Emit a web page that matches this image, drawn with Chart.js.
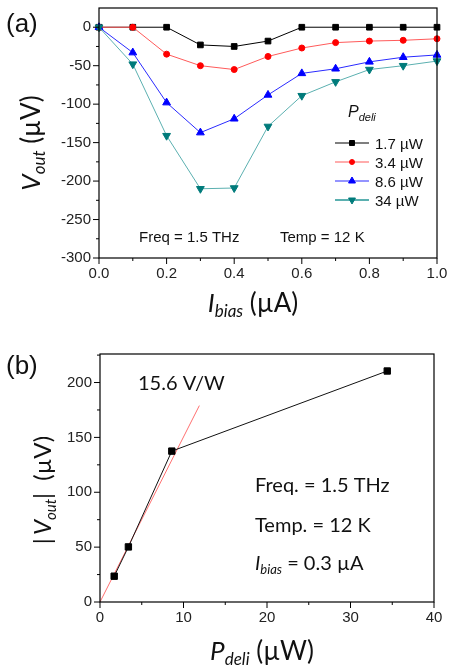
<!DOCTYPE html>
<html>
<head>
<meta charset="utf-8">
<script src="https://cdn.jsdelivr.net/npm/chart.js@4.4.0/dist/chart.umd.min.js"></script>
<style>
  body { margin: 0; background: #fff; }
  canvas { position: absolute; left: 0; }
  #chartA { top: 0; }
  #chartB { top: 330px; }
</style>
</head>
<body>
<canvas id="chartA" width="450" height="330"></canvas>
<canvas id="chartB" width="450" height="336"></canvas>
<script>
// Data, panel (a)
const iBias = [0, 0.1, 0.2, 0.3, 0.4, 0.5, 0.6, 0.7, 0.8, 0.9, 1.0];
const vout17 = [0, 0, 0, -23, -25, -18, 0, 0, 0, 0, 0];
const vout34 = [0, 0, -35, -50, -55, -38, -27, -20, -18, -17, -15];
const vout86 = [0, -33, -98, -137, -119, -88, -60, -54, -45, -39, -36];
const vout340 = [0, -48, -141, -210, -209, -129, -89, -71, -55, -50, -44];
const seriesNames = ['1.7 \u00b5W', '3.4 \u00b5W', '8.6 \u00b5W', '34 \u00b5W'];
const xTicksA = [0, 0.2, 0.4, 0.6, 0.8, 1.0];
const yTicksA = [-300, -250, -200, -150, -100, -50, 0];

// Data, panel (b)
const pDeli = [1.7, 3.4, 8.6, 34.4];
const voutAbs = [23.5, 50.2, 137.5, 210.5];
const fitP = [0, 11.9];
const fitV = [0, 179];
const xTicksB = [0, 10, 20, 30, 40];
const yTicksB = [0, 50, 100, 150, 200];

const tickFont = { family: "'Liberation Sans', Arial, sans-serif", size: 15 };
const tickColor = '#222';
const calibri = "Lato, 'Open Sans', sans-serif";
const arial = "'Liberation Sans', Arial, sans-serif";

const toXY = (xs, ys) => xs.map((x, i) => ({ x: x, y: ys[i] }));

// rich text: parts = [text, font, dy]
function drawRich(ctx, parts, x, y, align, rot) {
  ctx.save();
  ctx.translate(x, y);
  ctx.rotate(rot || 0);
  ctx.fillStyle = '#111';
  ctx.textAlign = 'left';
  ctx.textBaseline = 'alphabetic';
  let total = 0;
  parts.forEach(p => { ctx.font = p[1]; total += ctx.measureText(p[0]).width; });
  let cx = align === 'center' ? -total / 2 : 0;
  parts.forEach(p => {
    ctx.font = p[1];
    ctx.fillText(p[0], cx, p[2] || 0);
    cx += ctx.measureText(p[0]).width;
  });
  ctx.restore();
}

// frame + major/minor tick marks
const axisDecor = {
  id: 'axisDecor',
  afterDraw(chart, args, opts) {
    const { ctx, chartArea: a, scales: { x, y } } = chart;
    ctx.save();
    ctx.strokeStyle = '#000';
    ctx.lineWidth = 1.2;
    ctx.strokeRect(a.left, a.top, a.right - a.left, a.bottom - a.top);
    ctx.lineWidth = 1;
    ctx.beginPath();
    opts.xTicks.forEach((v, i) => {
      const px = x.getPixelForValue(v);
      ctx.moveTo(px, a.bottom); ctx.lineTo(px, a.bottom + 6);
      if (i < opts.xTicks.length - 1) {
        const mx = x.getPixelForValue((v + opts.xTicks[i + 1]) / 2);
        ctx.moveTo(mx, a.bottom); ctx.lineTo(mx, a.bottom + 3);
      }
    });
    opts.yTicks.forEach((v, i) => {
      const py = y.getPixelForValue(v);
      ctx.moveTo(a.left, py); ctx.lineTo(a.left - 6, py);
      const step = opts.yTicks[1] - opts.yTicks[0];
      const m = v + step / 2;
      if (m < y.max) {
        const my = y.getPixelForValue(m);
        ctx.moveTo(a.left, my); ctx.lineTo(a.left - 3, my);
      }
    });
    ctx.stroke();
    ctx.restore();
    if (opts.texts) opts.texts(ctx, chart);
  }
};

function makeSet(label, ys, line, fill, style, radius, rot, order) {
  return {
    label: label,
    data: toXY(iBias, ys),
    borderColor: line,
    borderWidth: 1,
    pointBackgroundColor: fill,
    pointBorderColor: fill,
    pointBorderWidth: 1,
    pointStyle: style,
    pointRadius: radius,
    pointRotation: rot,
    order: order,
    clip: false,
    tension: 0
  };
}

function linearAxis(min, max, ticks, fmt, fit, horizontal) {
  return {
    type: 'linear', min: min, max: max,
    grid: { display: false, drawTicks: false },
    border: { display: false },
    ticks: { font: tickFont, color: tickColor, padding: horizontal ? 7 : 8, callback: fmt },
    afterBuildTicks: s => { s.ticks = ticks.map(v => ({ value: v })); },
    afterFit: s => {
      if (horizontal) s.height = fit; else s.width = fit;
      s.paddingTop = 0; s.paddingBottom = 0; s.paddingLeft = 0; s.paddingRight = 0;
    }
  };
}

// Panel (a)
new Chart(document.getElementById('chartA'), {
  type: 'line',
  data: {
    datasets: [
      makeSet(seriesNames[0], vout17, '#000', '#000', 'rect', 4, 0, 4),
      makeSet(seriesNames[1], vout34, '#ff5a5a', '#ff0000', 'circle', 3, 0, 3),
      makeSet(seriesNames[2], vout86, '#2a2aff', '#0000ff', 'triangle', 4.5, 0, 2),
      makeSet(seriesNames[3], vout340, '#5bb0b0', '#007b7b', 'triangle', 4.5, 180, 1)
    ]
  },
  options: {
    responsive: false,
    animation: false,
    devicePixelRatio: 1,
    layout: { padding: { left: 0, right: 13, top: 8, bottom: 0 } },
    plugins: {
      legend: { display: false },
      tooltip: { enabled: false },
      axisDecor: {
        xTicks: xTicksA, yTicks: yTicksA,
        texts: (ctx, chart) => {
          drawRich(ctx, [['(a)', '26px ' + arial]], 6, 32, 'left');
          drawRich(ctx, [['I', 'italic 26px ' + calibri], ['bias', 'italic 17px ' + calibri, 5], [' (\u00b5A)', '26px ' + calibri]], 253, 312, 'center');
          drawRich(ctx, [['V', 'italic 26px ' + calibri], ['out', 'italic 17px ' + calibri, 5], [' (\u00b5V)', '26px ' + calibri]], 40, 143, 'center', -Math.PI / 2);
          drawRich(ctx, [['Freq = 1.5 THz', '15px ' + arial]], 139, 242, 'left');
          drawRich(ctx, [['Temp = 12 K', '15px ' + arial]], 280, 242, 'left');
          // legend
          drawRich(ctx, [['P', 'italic 16px ' + arial], ['deli', 'italic 11px ' + arial, 4]], 348, 117, 'left');
          chart.data.datasets.forEach((d, i) => {
            const ry = 143 + i * 19;
            ctx.save();
            ctx.strokeStyle = d.borderColor;
            ctx.lineWidth = i === 3 ? 2 : 1.2;
            ctx.beginPath(); ctx.moveTo(335, ry); ctx.lineTo(369, ry); ctx.stroke();
            ctx.fillStyle = d.pointBackgroundColor;
            ctx.strokeStyle = d.pointBorderColor;
            ctx.lineWidth = 1;
            Chart.helpers.drawPoint(ctx, { pointStyle: d.pointStyle, radius: d.pointRadius - 0.5, rotation: d.pointRotation, borderWidth: 1 }, 352, ry);
            ctx.restore();
            drawRich(ctx, [[d.label, '15px ' + arial]], 375, ry + 5.5, 'left');
          });
        }
      }
    },
    scales: {
      x: linearAxis(0, 1, xTicksA, v => v.toFixed(1), 72, true),
      y: linearAxis(-300, 25, yTicksA, v => String(v), 99, false)
    }
  },
  plugins: [axisDecor]
});

// Panel (b)
new Chart(document.getElementById('chartB'), {
  type: 'line',
  data: {
    datasets: [
      {
        label: 'data', data: toXY(pDeli, voutAbs),
        borderColor: '#111', borderWidth: 1,
        pointStyle: 'rect', pointRadius: 4.5,
        pointBackgroundColor: '#000', pointBorderColor: '#000',
        order: 1, clip: false
      },
      {
        label: 'fit', data: toXY(fitP, fitV),
        borderColor: '#ff7070', borderWidth: 1,
        pointRadius: 0, order: 2, clip: false
      }
    ]
  },
  options: {
    responsive: false,
    animation: false,
    devicePixelRatio: 1,
    layout: { padding: { left: 0, right: 16, top: 24, bottom: 0 } },
    plugins: {
      legend: { display: false },
      tooltip: { enabled: false },
      axisDecor: {
        xTicks: xTicksB, yTicks: yTicksB,
        texts: (ctx) => {
          drawRich(ctx, [['(b)', '26px ' + arial]], 6, 44, 'left');
          drawRich(ctx, [['P', 'italic 26px ' + calibri], ['deli', 'italic 17px ' + calibri, 5], [' (\u00b5W)', '26px ' + calibri]], 262, 330, 'center');
          drawRich(ctx, [['|\u2009', '24px ' + calibri], ['V', 'italic 24px ' + calibri], ['out', 'italic 15px ' + calibri, 5], ['|', '24px ' + calibri], ['  (\u00b5V)', '24px ' + calibri]], 51, 160, 'center', -Math.PI / 2);
          drawRich(ctx, [['15.6 V/W', '20px ' + calibri]], 138, 60, 'left');
          drawRich(ctx, [['Freq. = 1.5 THz', '20px ' + calibri]], 255, 162, 'left');
          drawRich(ctx, [['Temp. = 12 K', '20px ' + calibri]], 255, 202, 'left');
          drawRich(ctx, [['I', 'italic 20px ' + calibri], ['bias', 'italic 13px ' + calibri, 4], [' = 0.3 \u00b5A', '20px ' + calibri]], 255, 240, 'left');
        }
      }
    },
    scales: {
      x: linearAxis(0, 40, xTicksB, v => String(v), 64, true),
      y: linearAxis(0, 226, yTicksB, v => String(v), 100, false)
    }
  },
  plugins: [axisDecor]
});
</script>
</body>
</html>
